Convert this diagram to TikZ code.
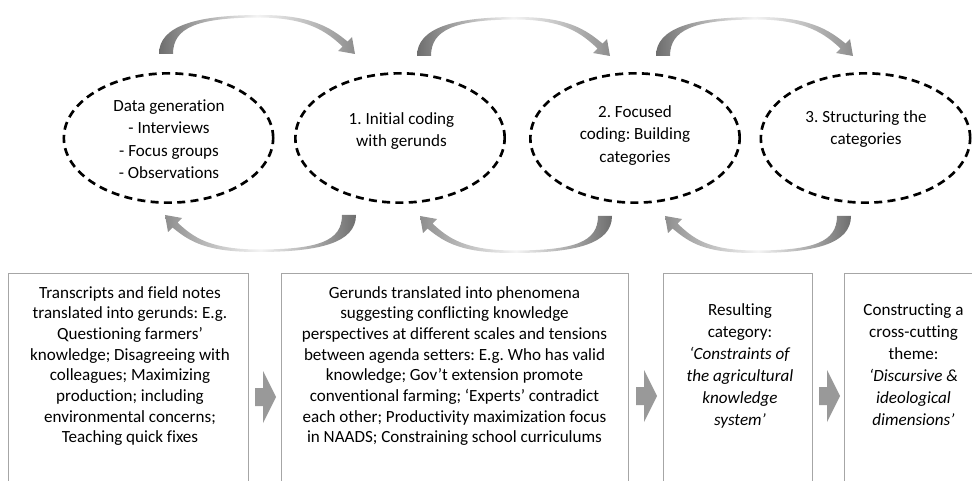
\documentclass[tikz,border=0pt]{standalone}
\usepackage{fontspec}
\setmainfont{Carlito}[Ligatures=NoCommon]
\usetikzlibrary{shapes.geometric}
\definecolor{boxgray}{HTML}{A6A6A6}
\definecolor{arrowgray}{HTML}{999999}
\definecolor{taildark}{HTML}{6E6E6E}
\definecolor{headgray}{HTML}{8E8E8E}
\definecolor{toplight}{HTML}{F4F4F4}
\frenchspacing
\tikzset{
  ell/.style={ellipse, draw=black, line width=2pt, dash pattern=on 6pt off 4pt,
    minimum width=157pt, minimum height=97pt, inner sep=0pt},
  etext/.style={align=center, font=\frenchspacing\fontsize{12.8}{16.9}\selectfont, inner sep=0pt},
  btext/.style={align=center, font=\frenchspacing\fontsize{12.8}{15.5}\selectfont, inner sep=0pt, anchor=north},
  stext/.style={align=center, font=\frenchspacing\fontsize{12.8}{16.6}\selectfont, inner sep=0pt, anchor=north},
  bbox/.style={draw=boxgray, line width=0.8pt, anchor=north west, inner sep=0pt,
    minimum height=210pt},
  toparc/.pic={
    \shade[left color=taildark, right color=headgray, middle color=toplight]
      (-7,0) .. controls (-7,-28) and (30,-39) .. (#1/2,-39)
      .. controls (#1/2+50,-39) and (#1-25,-27) .. (#1-7.5,-12.5)
      -- (#1-3,-17) -- (#1,0) -- (#1-17,-3) -- (#1-12.5,-7.5)
      .. controls (#1-28,-22) and (#1/2+48,-36) .. (#1/2,-36.5)
      .. controls (30,-36.5) and (7,-26) .. (7,0) -- cycle;
  },
  botarc/.pic={
    \shade[right color=taildark, left color=headgray, middle color=toplight]
      (7,0) .. controls (7,28) and (-30,37) .. (-#1/2,37)
      .. controls (-#1/2-50,37) and (-#1+25,27) .. (-#1+7.5,12.5)
      -- (-#1+3,17) -- (-#1,0) -- (-#1+17,3) -- (-#1+12.5,7.5)
      .. controls (-#1+28,22) and (-#1/2-48,34) .. (-#1/2,34.5)
      .. controls (-30,34.5) and (-7,26) .. (-7,0) -- cycle;
  },
  blockarr/.pic={
    \fill[arrowgray] (0,-9) -- (8,-9) -- (8,-26) -- (21,0) -- (8,26) -- (8,9) -- (0,9) -- cycle;
  }
}
\begin{document}
\begin{tikzpicture}[x=0.75pt,y=-0.75pt]
\useasboundingbox (0,0) rectangle (972,481);

% ellipses
\node[ell] (e1) at (168.5,138) {};
\node[ell] (e2) at (400,138) {};
\node[ell] (e3) at (635,138) {};
\node[ell] (e4) at (865.5,138) {};

\node[etext] (t1) at (169,139) {Data generation\\- Interviews\\- Focus groups\\- Observations};
\node[etext] (t2) at (401.5,131) {1. Initial coding\\with gerunds};
\node[etext] (t3) at (635,135.5) {2. Focused\\coding: Building\\categories};
\node[etext] (t4) at (866,129) {3. Structuring the\\categories};

% curved arrows
\pic at (166,54) {toparc=189};
\pic at (424,56) {toparc=186};
\pic at (663,56) {toparc=190};
\pic at (349,215) {botarc=184};
\pic at (605,216) {botarc=185};
\pic at (844,216) {botarc=179};

% boxes
\begin{scope}
\clip (0,0) rectangle (972,481);
\node[bbox, minimum width=180pt] (b1) at (8,273) {};
\node[bbox, minimum width=260.25pt] (b2) at (281,273) {};
\node[bbox, minimum width=111.75pt] (b3) at (663,273) {};
\node[bbox, minimum width=100.5pt] (b4) at (844,273) {};
\end{scope}

\node[btext] (x1) at (130,286) {Transcripts and field notes\\translated into gerunds: E.g.\\Questioning farmers’\\knowledge; Disagreeing with\\colleagues; Maximizing\\production; including\\environmental concerns;\\Teaching quick fixes};
\node[btext] (x2) at (454.5,286) {Gerunds translated into phenomena\\suggesting conflicting knowledge\\perspectives at different scales and tensions\\between agenda setters: E.g. Who has valid\\knowledge; Gov’t extension promote\\conventional farming; ‘Experts’ contradict\\each other; Productivity maximization focus\\in NAADS; Constraining school curriculums};
\node[stext] (x3) at (740,303) {Resulting\\category:\\\textit{‘Constraints of}\\\textit{the agricultural}\\\textit{knowledge}\\\textit{system’}};
\node[stext] (x4) at (913.5,303) {Constructing a\\cross-cutting\\theme:\\\textit{‘Discursive \&}\\\textit{ideological}\\\textit{dimensions’}};

% block arrows
\pic at (255,397) {blockarr};
\pic at (636,396) {blockarr};
\pic at (819,396) {blockarr};
\end{tikzpicture}
\end{document}
